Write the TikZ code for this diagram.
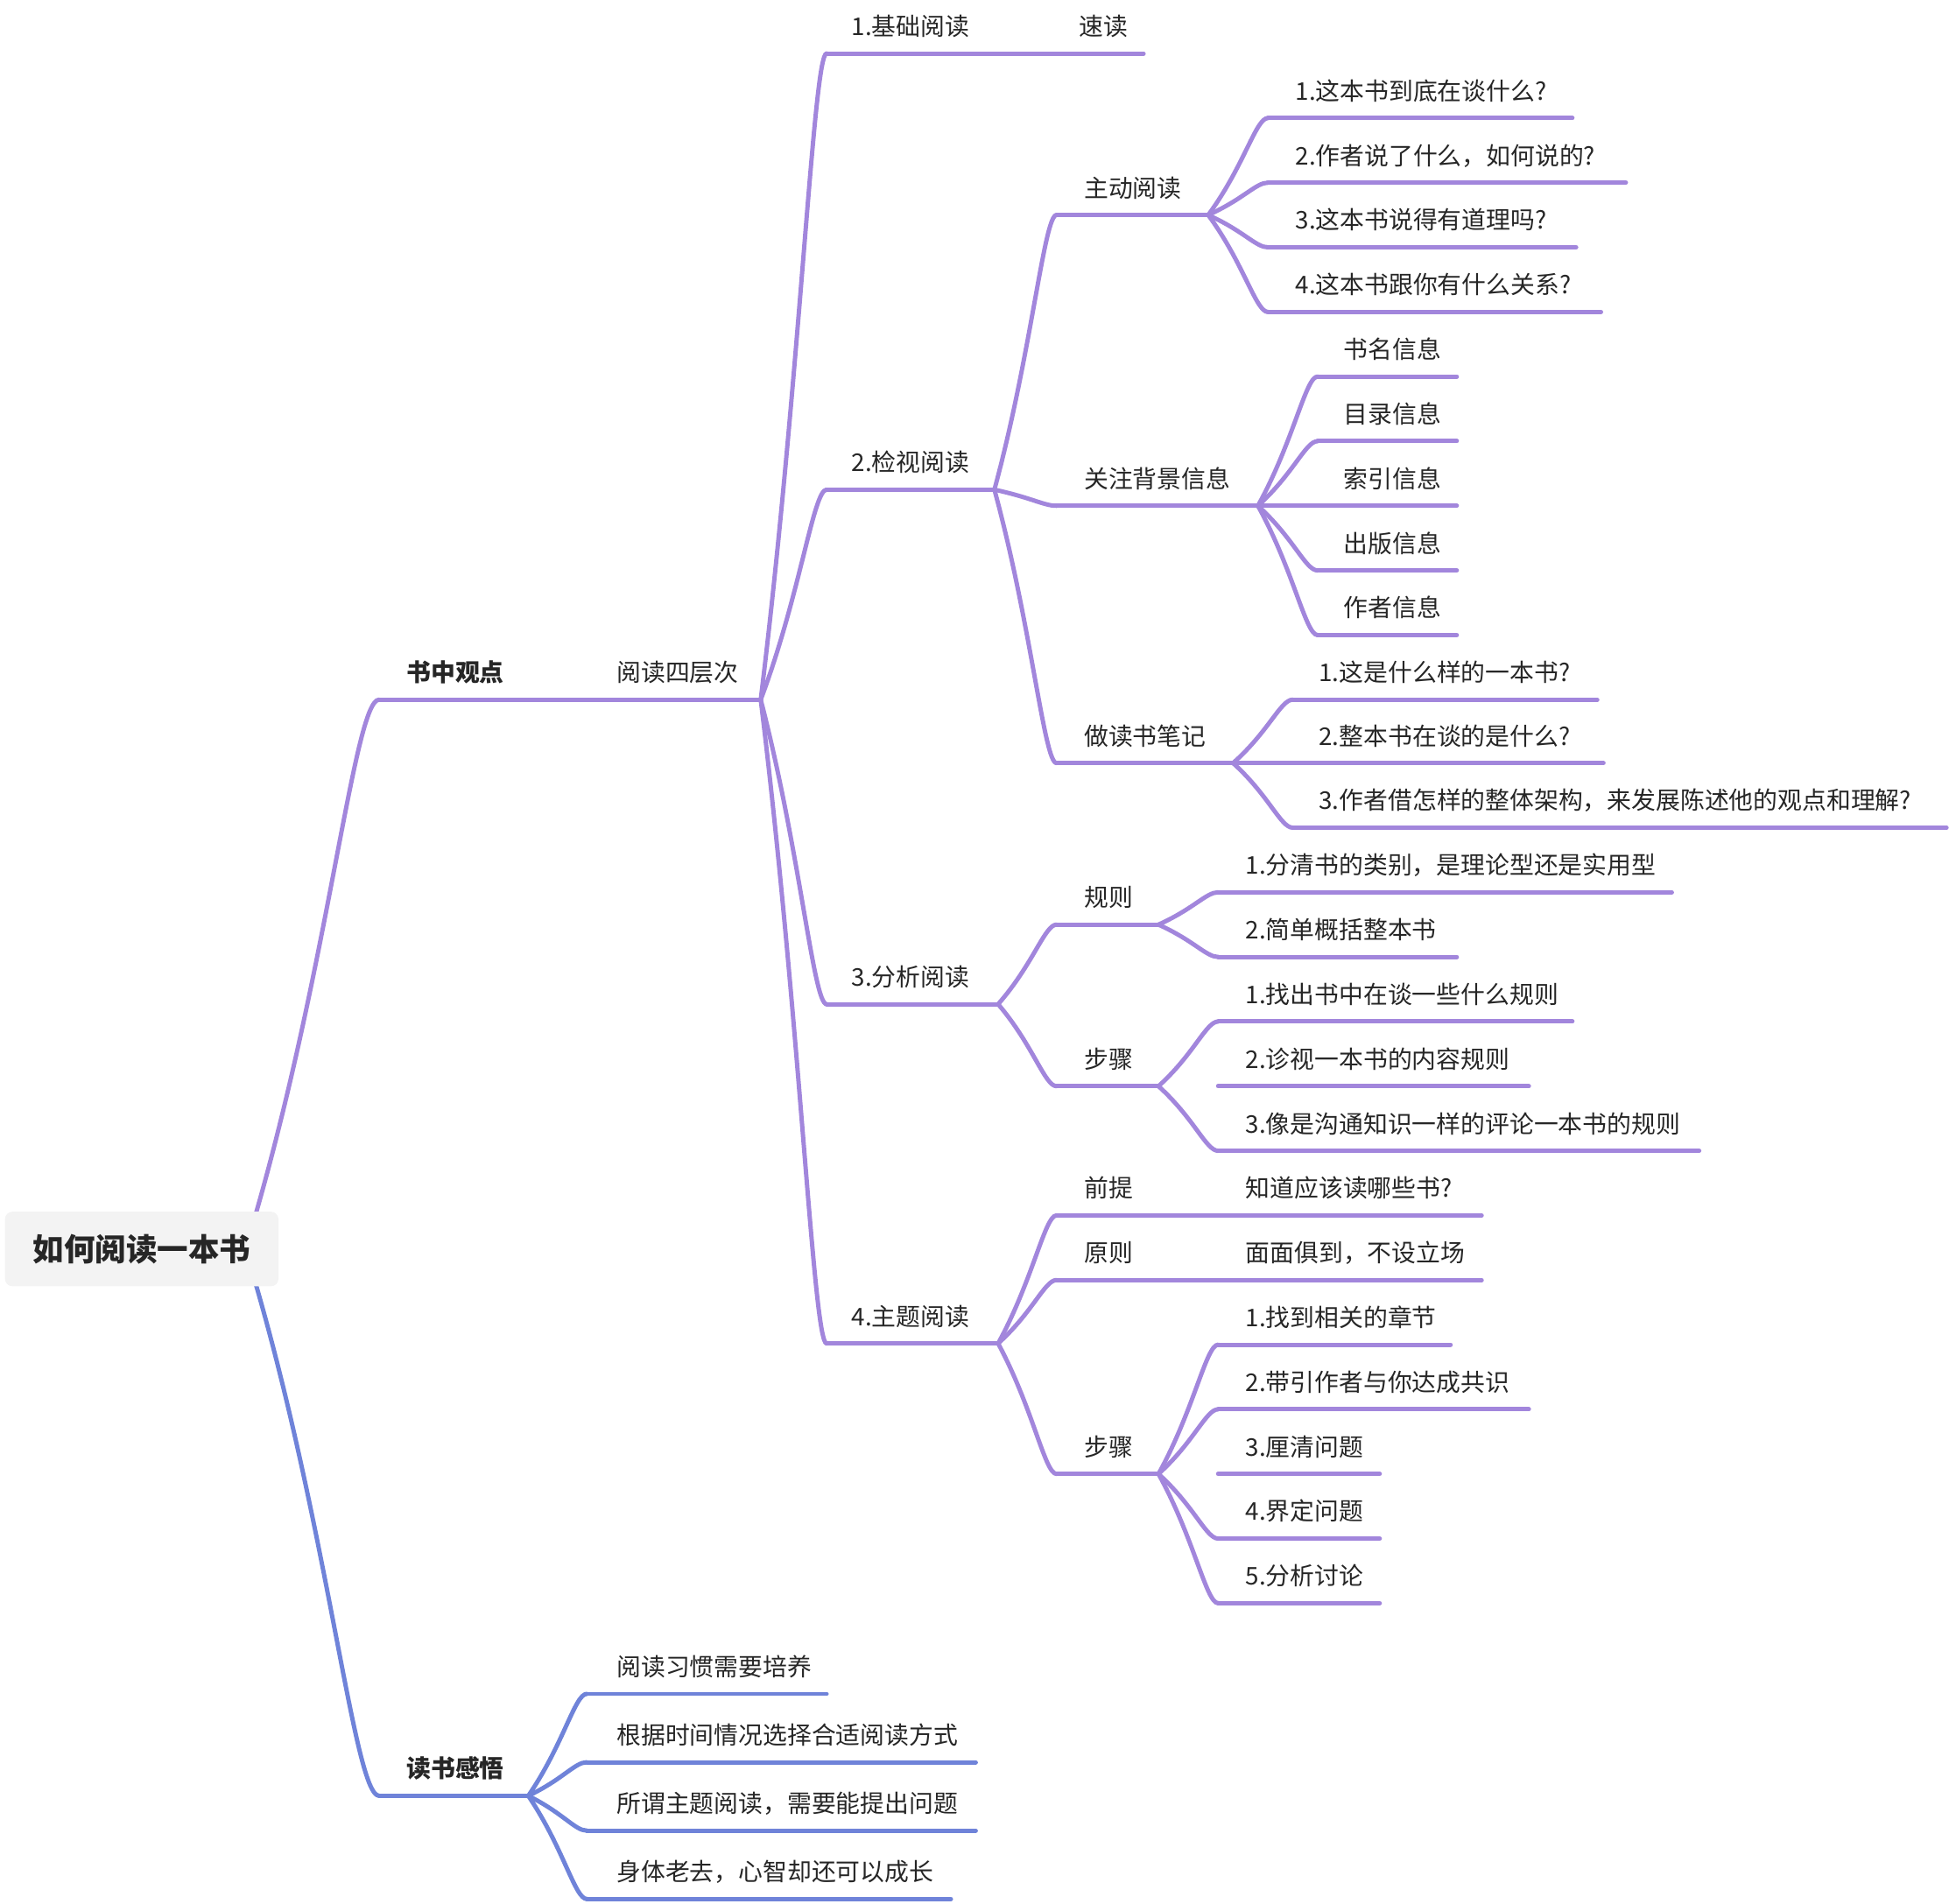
\documentclass[tikz,border=0pt]{standalone}
\usepackage{fontspec}
\setmainfont{Noto Sans CJK SC}
\usetikzlibrary{calc}
\definecolor{pl}{HTML}{A286DC}
\definecolor{bl}{HTML}{6F83D9}
\definecolor{tx}{HTML}{262626}
\definecolor{rootfill}{HTML}{F3F3F3}
\tikzset{
  lbl/.style={anchor=base west, inner sep=0pt, text=tx, font=\fontsize{19.6}{20}\selectfont},
  lblb/.style={lbl, font=\fontsize{19.6}{20}\selectfont\bfseries},
  wire/.style={line width=3.5pt, line cap=round},
  rootbox/.style={fill=rootfill, rounded corners=6pt, minimum width=220pt, minimum height=60pt, inner sep=0pt, text=tx, font=\fontsize{25}{26}\selectfont\bfseries},
}
% #1 name, #2 colour, #3 x start, #4 x end, #5 line y, #6 text x, #7 style, #8 text
\newcommand\topic[8]{%
  \coordinate (#1-s) at (#3,#5);
  \coordinate (#1-e) at (#4,#5);
  \draw[wire,#2] (#1-s) -- (#1-e);
  \node[#7] (#1) at (#6,#5-14.5) {#8};
}
% #1 colour, #2 from, #3 to
\newcommand\branch[3]{%
  \draw[wire,#1] let \p1=(#2), \p2=(#3) in
    (\p1) .. controls ({\x1+0.6*(\x2-\x1)},{\y1+0.5*(\y2-\y1)}) and ({\x2-0.2*(\x2-\x1)},\y2) .. (\p2);
}
\begin{document}
\begin{tikzpicture}[x=1pt,y=-1pt]
\useasboundingbox (0,0) rectangle (1568,1531.5);
\coordinate (root-t) at (206,976);
\coordinate (root-b) at (206,1034);

% ---- 书中观点
\topic{gd}{pl}{305}{470}{563}{327}{lblb}{书中观点}
\branch{pl}{root-t}{gd-s}
\topic{ydc}{pl}{470}{612}{563}{496}{lbl}{阅读四层次}

\topic{l1}{pl}{665}{850}{43}{685}{lbl}{1.基础阅读}
\topic{sd}{pl}{850}{920}{43}{868}{lbl}{速读}
\topic{l2}{pl}{665}{800}{394}{685}{lbl}{2.检视阅读}
\topic{l3}{pl}{665}{803}{808}{685}{lbl}{3.分析阅读}
\topic{l4}{pl}{665}{803}{1081}{685}{lbl}{4.主题阅读}
\branch{pl}{ydc-e}{l1-s}
\branch{pl}{ydc-e}{l2-s}
\branch{pl}{ydc-e}{l3-s}
\branch{pl}{ydc-e}{l4-s}

% 2.检视阅读
\topic{zd}{pl}{850}{972}{173}{872}{lbl}{主动阅读}
\topic{bj}{pl}{850}{1012}{407}{872}{lbl}{关注背景信息}
\topic{bj2}{pl}{850}{992}{614}{872}{lbl}{做读书笔记}
\branch{pl}{l2-e}{zd-s}
\branch{pl}{l2-e}{bj-s}
\branch{pl}{l2-e}{bj2-s}

\topic{q1}{pl}{1020}{1265}{95}{1042}{lbl}{1.这本书到底在谈什么?}
\topic{q2}{pl}{1020}{1308}{147}{1042}{lbl}{2.作者说了什么，如何说的?}
\topic{q3}{pl}{1020}{1268}{199}{1042}{lbl}{3.这本书说得有道理吗?}
\topic{q4}{pl}{1020}{1288}{251}{1042}{lbl}{4.这本书跟你有什么关系?}
\branch{pl}{zd-e}{q1-s}
\branch{pl}{zd-e}{q2-s}
\branch{pl}{zd-e}{q3-s}
\branch{pl}{zd-e}{q4-s}

\topic{b1}{pl}{1060}{1172}{303}{1081}{lbl}{书名信息}
\topic{b2}{pl}{1060}{1172}{355}{1081}{lbl}{目录信息}
\topic{b3}{pl}{1060}{1172}{407}{1081}{lbl}{索引信息}
\topic{b4}{pl}{1060}{1172}{459}{1081}{lbl}{出版信息}
\topic{b5}{pl}{1060}{1172}{511}{1081}{lbl}{作者信息}
\branch{pl}{bj-e}{b1-s}
\branch{pl}{bj-e}{b2-s}
\branch{pl}{bj-e}{b3-s}
\branch{pl}{bj-e}{b4-s}
\branch{pl}{bj-e}{b5-s}

\topic{n1}{pl}{1040}{1285}{563}{1061}{lbl}{1.这是什么样的一本书?}
\topic{n2}{pl}{1040}{1290}{614}{1061}{lbl}{2.整本书在谈的是什么?}
\topic{n3}{pl}{1040}{1566}{666}{1061}{lbl}{3.作者借怎样的整体架构，来发展陈述他的观点和理解?}
\branch{pl}{bj2-e}{n1-s}
\branch{pl}{bj2-e}{n2-s}
\branch{pl}{bj2-e}{n3-s}

% 3.分析阅读
\topic{gz}{pl}{850}{932}{744}{872}{lbl}{规则}
\topic{bz}{pl}{850}{932}{874}{872}{lbl}{步骤}
\branch{pl}{l3-e}{gz-s}
\branch{pl}{l3-e}{bz-s}
\topic{g1}{pl}{980}{1345}{718}{1002}{lbl}{1.分清书的类别，是理论型还是实用型}
\topic{g2}{pl}{980}{1172}{770}{1002}{lbl}{2.简单概括整本书}
\branch{pl}{gz-e}{g1-s}
\branch{pl}{gz-e}{g2-s}
\topic{s1}{pl}{980}{1265}{822}{1002}{lbl}{1.找出书中在谈一些什么规则}
\topic{s2}{pl}{980}{1230}{874}{1002}{lbl}{2.诊视一本书的内容规则}
\topic{s3}{pl}{980}{1367}{926}{1002}{lbl}{3.像是沟通知识一样的评论一本书的规则}
\branch{pl}{bz-e}{s1-s}
\branch{pl}{bz-e}{s3-s}

% 4.主题阅读
\topic{qt}{pl}{850}{980}{978}{872}{lbl}{前提}
\topic{qt2}{pl}{980}{1192}{978}{1002}{lbl}{知道应该读哪些书?}
\topic{yz}{pl}{850}{980}{1030}{872}{lbl}{原则}
\topic{yz2}{pl}{980}{1192}{1030}{1002}{lbl}{面面俱到，不设立场}
\topic{bz2}{pl}{850}{932}{1186}{872}{lbl}{步骤}
\branch{pl}{l4-e}{qt-s}
\branch{pl}{l4-e}{yz-s}
\branch{pl}{l4-e}{bz2-s}
\topic{t1}{pl}{980}{1167}{1082}{1002}{lbl}{1.找到相关的章节}
\topic{t2}{pl}{980}{1230}{1134}{1002}{lbl}{2.带引作者与你达成共识}
\topic{t3}{pl}{980}{1110}{1186}{1002}{lbl}{3.厘清问题}
\topic{t4}{pl}{980}{1110}{1238}{1002}{lbl}{4.界定问题}
\topic{t5}{pl}{980}{1110}{1290}{1002}{lbl}{5.分析讨论}
\branch{pl}{bz2-e}{t1-s}
\branch{pl}{bz2-e}{t2-s}
\branch{pl}{bz2-e}{t4-s}
\branch{pl}{bz2-e}{t5-s}

% ---- 读书感悟
\topic{gw}{bl}{305}{425}{1445}{327}{lblb}{读书感悟}
\branch{bl}{root-b}{gw-s}
\topic{w1}{bl}{472}{665}{1363}{496}{lbl}{阅读习惯需要培养}
\topic{w2}{bl}{472}{785}{1418}{496}{lbl}{根据时间情况选择合适阅读方式}
\topic{w3}{bl}{472}{785}{1473}{496}{lbl}{所谓主题阅读，需要能提出问题}
\topic{w4}{bl}{472}{765}{1528}{496}{lbl}{身体老去，心智却还可以成长}
\branch{bl}{gw-e}{w1-s}
\branch{bl}{gw-e}{w2-s}
\branch{bl}{gw-e}{w3-s}
\branch{bl}{gw-e}{w4-s}

% root
\node[rootbox] (root) at (114,1005) {如何阅读一本书};
\end{tikzpicture}
\end{document}
